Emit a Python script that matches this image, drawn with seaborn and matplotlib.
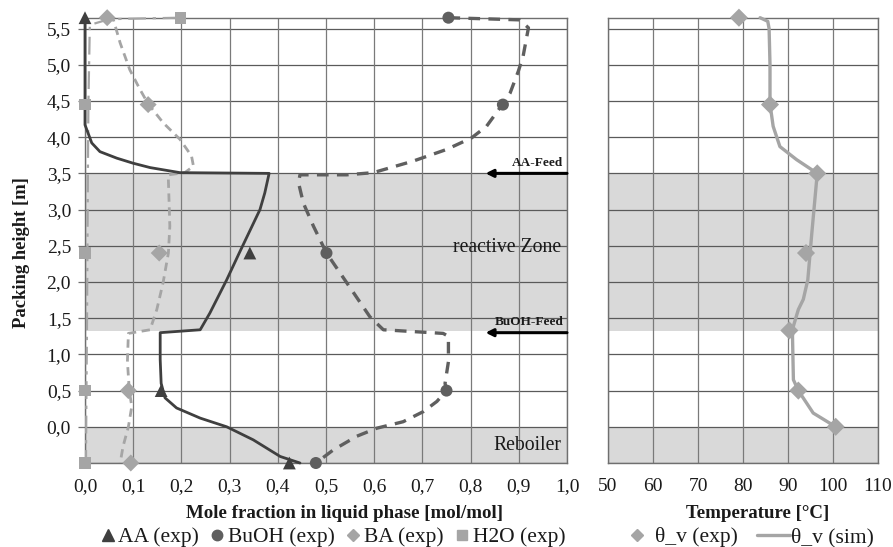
import numpy as np
import pandas as pd
import matplotlib
matplotlib.use("Agg")
import matplotlib.pyplot as plt
import seaborn as sns
from matplotlib.lines import Line2D

sns.set_theme(style="white")
plt.rcParams['font.family'] = ['Liberation Serif', 'DejaVu Serif']

# ---------------- data ----------------
# experimental (left plot)
aa_exp_x = [0.0, 0.342, 0.158, 0.424]
aa_exp_y = [5.65, 2.40, 0.50, -0.50]
buoh_exp_x = [0.754, 0.867, 0.501, 0.750, 0.479]
buoh_exp_y = [5.65, 4.45, 2.40, 0.50, -0.50]
ba_exp_x = [0.046, 0.131, 0.154, 0.090, 0.095]
ba_exp_y = [5.65, 4.45, 2.40, 0.50, -0.50]
h2o_exp_x = [0.198, 0.0, 0.0, 0.0, 0.0]
h2o_exp_y = [5.65, 4.45, 2.40, 0.50, -0.50]

# simulation profiles (left plot)
aa_sim_x = [0.0, 0.0, 0.0, 0.014, 0.031, 0.066, 0.10, 0.135, 0.197, 0.382, 0.373, 0.363,
            0.32, 0.294, 0.259, 0.239, 0.156, 0.156, 0.158, 0.166, 0.19, 0.239, 0.294,
            0.349, 0.405, 0.446]
aa_sim_y = [5.65, 4.5, 4.17, 3.92, 3.80, 3.71, 3.64, 3.58, 3.51, 3.50, 3.23, 3.0,
            2.4, 2.03, 1.57, 1.34, 1.30, 0.93, 0.6, 0.40, 0.26, 0.12, 0.0,
            -0.18, -0.41, -0.5]
buoh_sim_x = [0.754, 0.902, 0.92, 0.909, 0.899, 0.882, 0.867, 0.833, 0.802, 0.75, 0.681,
              0.598, 0.543, 0.446, 0.443, 0.453, 0.474, 0.501, 0.543, 0.591, 0.619, 0.743,
              0.754, 0.754, 0.747, 0.75, 0.73, 0.702, 0.66, 0.605, 0.564, 0.515, 0.479]
buoh_sim_y = [5.65, 5.62, 5.51, 5.12, 4.91, 4.61, 4.46, 4.15, 3.99, 3.83, 3.67,
              3.51, 3.48, 3.48, 3.37, 3.09, 2.77, 2.40, 1.99, 1.52, 1.34, 1.29,
              1.25, 0.9, 0.6, 0.5, 0.35, 0.21, 0.07, -0.02, -0.13, -0.32, -0.5]
ba_sim_x = [0.046, 0.059, 0.073, 0.093, 0.114, 0.131, 0.162, 0.197, 0.221, 0.225, 0.207,
            0.173, 0.173, 0.176, 0.173, 0.162, 0.149, 0.135, 0.09, 0.088, 0.092, 0.097,
            0.09, 0.079, 0.073]
ba_sim_y = [5.65, 5.62, 5.30, 4.93, 4.66, 4.46, 4.20, 3.97, 3.74, 3.60, 3.51,
            3.48, 3.41, 2.77, 2.40, 1.99, 1.62, 1.34, 1.29, 0.9, 0.5, 0.28,
            0.0, -0.27, -0.5]
h2o_sim_x = [0.198, 0.05, 0.01, 0.007, 0.006, 0.005, 0.004, 0.003, 0.002]
h2o_sim_y = [5.65, 5.63, 5.55, 4.45, 3.5, 2.4, 1.3, 0.5, -0.5]

# temperature (right plot)
t_exp_x = [79.1, 86.0, 96.5, 94.0, 90.3, 92.3, 100.6]
t_exp_y = [5.65, 4.45, 3.50, 2.40, 1.33, 0.50, 0.00]
t_sim_x = [83.8, 85.5, 85.8, 86.0, 86.0, 86.7, 88.2, 91.9, 96.5, 95.3, 94.4, 93.4,
           92.3, 91.2, 91.0, 91.2, 92.3, 95.6, 100.6]
t_sim_y = [5.65, 5.60, 5.50, 5.0, 4.46, 4.15, 3.87, 3.69, 3.50, 2.68, 2.03, 1.76,
           1.62, 1.39, 1.25, 0.65, 0.50, 0.19, 0.00]

x_ticks = [round(0.1 * i, 1) for i in range(11)]
y_ticks = [round(0.5 * i, 1) for i in range(12)]
t_ticks = [50, 60, 70, 80, 90, 100, 110]

legend_left = ["AA (exp)", "BuOH (exp)", "BA (exp)", "H2O (exp)"]
legend_right = ["θ_v (exp)", "θ_v (sim)"]

# ---------------- styling ----------------
c_aa = '#3f3f3f'
c_buoh = '#5f5f5f'
c_light = '#a5a5a5'
shade = '#d9d9d9'
txt = '#1a1a1a'

W, H = 893, 547
fig = plt.figure(figsize=(W/100, H/100), dpi=100)
axL = fig.add_axes([85/W, 1-463/H, (567-85)/W, (463-17.7)/H])
axR = fig.add_axes([608/W, 1-463/H, (878-608)/W, (463-17.7)/H])

ymin, ymax = -0.5, 5.65

for ax in (axL, axR):
    ax.axhspan(1.32, 3.5, color=shade, zorder=0, lw=0)
    ax.axhspan(-0.5, 0.0, color=shade, zorder=0, lw=0)
    ax.set_ylim(ymin, ymax)
    for y in [-0.5] + y_ticks:
        ax.axhline(y, color='#5a5a5a', lw=0.9, zorder=0.5)
    for s in ax.spines.values():
        s.set_color('#6f6f6f')
        s.set_linewidth(1.0)

axL.set_xlim(0, 1)
for x in x_ticks:
    axL.axvline(x, color='#7a7a7a', lw=0.9, zorder=0.5)
axR.set_xlim(50, 110)
for x in t_ticks:
    axR.axvline(x, color='#7a7a7a', lw=0.9, zorder=0.5)

# simulated lines
def prof(ax, xs, ys, color, lw, dashes):
    df = pd.DataFrame({"x": xs, "y": ys})
    sns.lineplot(data=df, x="x", y="y", sort=False, estimator=None, ax=ax,
                 color=color, lw=lw, zorder=3)
    ln = ax.lines[-1]
    if dashes is not None:
        ln.set_dashes(dashes)
    ln.set_clip_on(False)
    ln.set_solid_capstyle('round')
    ln.set_solid_joinstyle('round')
    ln.set_dash_capstyle('butt')

prof(axL, h2o_sim_x, h2o_sim_y, c_light, 1.6, (8, 3, 1.5, 3))
prof(axL, ba_sim_x, ba_sim_y, c_light, 2.0, (3, 2))
prof(axL, buoh_sim_x, buoh_sim_y, c_buoh, 2.4, (3.5, 2.5))
prof(axL, aa_sim_x, aa_sim_y, c_aa, 2.0, None)

def pts(ax, xs, ys, marker, color, s):
    df = pd.DataFrame({"x": xs, "y": ys})
    sns.scatterplot(data=df, x="x", y="y", marker=marker, color=color, s=s,
                    edgecolor='none', ax=ax, zorder=4, clip_on=False)

pts(axL, h2o_exp_x, h2o_exp_y, 's', c_light, 70)
pts(axL, ba_exp_x, ba_exp_y, 'D', c_light, 75)
pts(axL, buoh_exp_x, buoh_exp_y, 'o', c_buoh, 75)
pts(axL, aa_exp_x, aa_exp_y, '^', c_aa, 85)

prof(axR, t_sim_x, t_sim_y, c_light, 2.4, None)
pts(axR, t_exp_x, t_exp_y, 'D', c_light, 85)

# ticks
axL.set_xticks(x_ticks)
axL.set_xticklabels([f"{v:.1f}".replace('.', ',') for v in x_ticks])
axL.set_yticks(y_ticks)
axL.set_yticklabels([f"{v:.1f}".replace('.', ',') for v in y_ticks])
axL.tick_params(axis='x', labelsize=14, labelcolor=txt, bottom=False, length=0, pad=11)
axL.tick_params(axis='y', labelsize=14, labelcolor=txt, left=True, length=5,
                width=0.9, color='#6f6f6f', direction='out', pad=5)

axR.set_xticks(t_ticks)
axR.set_xticklabels([str(v) for v in t_ticks])
axR.set_yticks(y_ticks)
axR.set_yticklabels([])
axR.tick_params(axis='y', left=False, length=0)
axR.tick_params(axis='x', labelsize=14, labelcolor=txt, bottom=False, length=0, pad=11)

axL.set_xlabel("Mole fraction in liquid phase [mol/mol]", fontsize=13.6,
               fontweight='bold', labelpad=8, color=txt)
axL.xaxis.set_label_coords((344-85)/482, -0.095)
axL.set_ylabel("Packing height [m]", fontsize=13.4, fontweight='bold', labelpad=11,
               color=txt)
axL.yaxis.set_label_coords(-(85-30)/482, (463-253)/445.3)
axR.set_xlabel("Temperature [°C]", fontsize=13.6, fontweight='bold', labelpad=8,
               color=txt)
axR.xaxis.set_label_coords((758-608)/270, -0.095)
axR.set_ylabel("")

# annotations
axL.text(0.988, 2.47, "reactive Zone", ha='right', va='center', fontsize=14.2,
         color=txt, zorder=5)
axL.text(0.988, -0.26, "Reboiler", ha='right', va='center', fontsize=14.2,
         color=txt, zorder=5)
for yy in (3.5, 1.3):
    axL.annotate("", xy=(0.831, yy), xytext=(1.0, yy),
                 arrowprops=dict(arrowstyle='-|>', color='black', lw=2.2,
                                 mutation_scale=11, shrinkA=0, shrinkB=0), zorder=5)
axL.text(0.992, 3.56, "AA-Feed", ha='right', va='bottom', fontsize=9.5,
         fontweight='bold', color=txt, zorder=5)
axL.text(0.992, 1.36, "BuOH-Feed", ha='right', va='bottom', fontsize=9.5,
         fontweight='bold', color=txt, zorder=5)

# legends
ly = 1 - 537/H
hL = [Line2D([], [], ls='none', marker='^', color=c_aa, markersize=9),
      Line2D([], [], ls='none', marker='o', color=c_buoh, markersize=7.5),
      Line2D([], [], ls='none', marker='D', color=c_light, markersize=6.5),
      Line2D([], [], ls='none', marker='s', color=c_light, markersize=7.5)]
fig.legend(hL, legend_left, loc='center left', bbox_to_anchor=(100/W, ly),
           ncol=4, frameon=False, fontsize=15.5, handlelength=0.7, handletextpad=0.15,
           columnspacing=0.5, borderaxespad=0, borderpad=0, labelcolor=txt)
fig.legend([Line2D([], [], ls='none', marker='D', color=c_light, markersize=6.5)],
           [legend_right[0]], loc='center left', bbox_to_anchor=(626/W, ly),
           frameon=False, fontsize=15.5, handlelength=1.0, handletextpad=0.35,
           borderaxespad=0, borderpad=0, labelcolor=txt)
fig.legend([Line2D([], [], ls='-', color=c_light, lw=2.4)],
           [legend_right[1]], loc='center left', bbox_to_anchor=(757/W, ly),
           frameon=False, fontsize=15.5, handlelength=1.55, handletextpad=0.05,
           borderaxespad=0, borderpad=0, labelcolor=txt)

fig.savefig("out.png", dpi=100)
